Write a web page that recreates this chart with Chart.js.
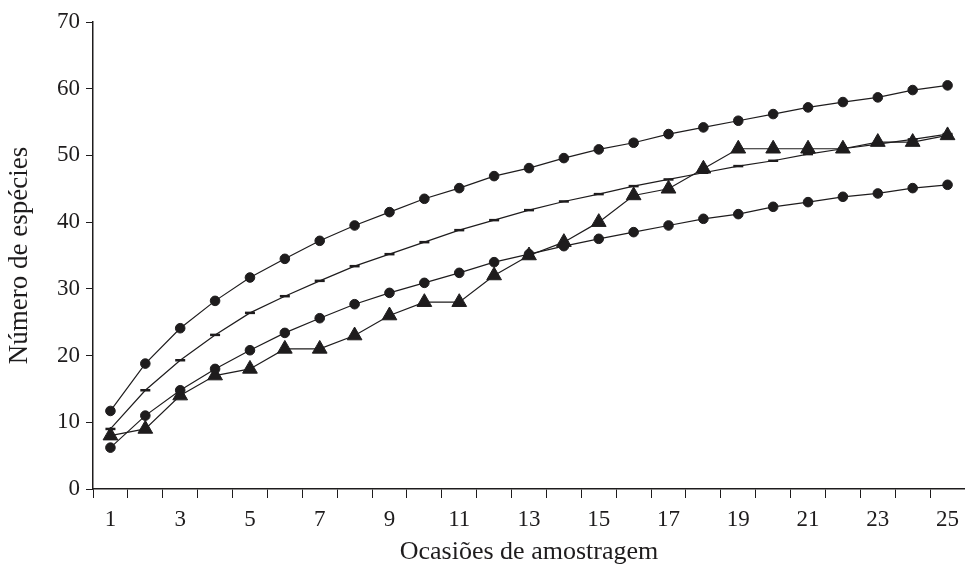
<!DOCTYPE html>
<html>
<head>
<meta charset="utf-8">
<script src="https://cdn.jsdelivr.net/npm/chart.js@4.4.1/dist/chart.umd.min.js"></script>
<style>
html,body{margin:0;padding:0;background:#fff;}
#wrap{width:965px;height:568px;position:relative;}
</style>
</head>
<body>
<div id="wrap"><canvas id="c" width="965" height="568"></canvas></div>
<script>
const categories = ["1","2","3","4","5","6","7","8","9","10","11","12","13","14","15","16","17","18","19","20","21","22","23","24","25"];
const upperCircles = [11.7,18.8,24.1,28.2,31.7,34.5,37.2,39.5,41.5,43.5,45.1,46.9,48.1,49.6,50.9,51.9,53.2,54.2,55.2,56.2,57.2,58.0,58.7,59.8,60.5];
const dashSeries = [9.0,14.8,19.3,23.1,26.4,28.9,31.2,33.4,35.2,37.0,38.8,40.3,41.8,43.1,44.2,45.4,46.4,47.4,48.4,49.2,50.2,51.0,51.7,52.4,53.2];
const lowerCircles = [6.2,11.0,14.8,18.0,20.8,23.4,25.6,27.7,29.4,30.9,32.4,34.0,35.2,36.4,37.5,38.5,39.5,40.5,41.2,42.3,43.0,43.8,44.3,45.1,45.6];
const triangles = [8,9,14,17,18,21,21,23,26,28,28,32,35,37,40,44,45,48,51,51,51,51,52,52,53];
const yTicks = [0,10,20,30,40,50,60,70];
const xTitle = "Ocasiões de amostragem";
const yTitle = "Número de espécies";

const ink = '#1e1c1d';
function ds(data, style, radius, bw){
  return {data, borderColor: ink, backgroundColor: ink, borderWidth: 1.2,
    pointStyle: style, pointRadius: radius, pointBorderWidth: bw, pointBackgroundColor: ink,
    pointBorderColor: ink, tension: 0, fill: false, clip: false};
}
new Chart(document.getElementById('c'), {
  type: 'line',
  data: {
    labels: categories,
    datasets: [
      ds(upperCircles, 'circle', 4.8, 1),
      ds(dashSeries, 'line', 5, 2.5),
      ds(lowerCircles, 'circle', 4.8, 1),
      ds(triangles, 'triangle', 8.5, 1)
    ]
  },
  options: {
    responsive: false,
    animation: false,
    layout: {autoPadding: false, padding: {top: 22, right: 0, left: 0, bottom: 0}},
    plugins: {legend: {display: false}, tooltip: {enabled: false}},
    scales: {
      x: {
        type: 'category',
        offset: true,
        grid: {display: true, drawOnChartArea: false, drawTicks: true, tickLength: 9, offset: true, color: ink, tickColor: ink},
        border: {display: true, color: ink, width: 1.5},
        ticks: {
          autoSkip: false, maxRotation: 0, padding: 8,
          color: ink, font: {family: 'Liberation Serif', size: 23},
          callback: function(v, i){ return i % 2 === 0 ? categories[i] : ''; }
        },
        title: {display: true, text: xTitle, color: ink, font: {family: 'Liberation Serif', size: 26}, padding: {top: 0, bottom: 0}},
        afterFit: function(s){ s.height = 79; s.paddingRight = 0; s.paddingLeft = 0; }
      },
      y: {
        min: 0, max: 70,
        afterBuildTicks: function(s){ s.ticks = yTicks.map(v => ({value: v})); },
        grid: {display: true, drawOnChartArea: false, drawTicks: true, tickLength: 7, color: ink, tickColor: ink},
        border: {display: true, color: ink, width: 1.5},
        ticks: {color: ink, padding: 6, font: {family: 'Liberation Serif', size: 23}},
        title: {display: true, text: yTitle, color: ink, font: {family: 'Liberation Serif', size: 27}, padding: {top: 4, bottom: 4}},
        afterFit: function(s){ s.width = 93; }
      }
    }
  }
});
</script>
</body>
</html>
